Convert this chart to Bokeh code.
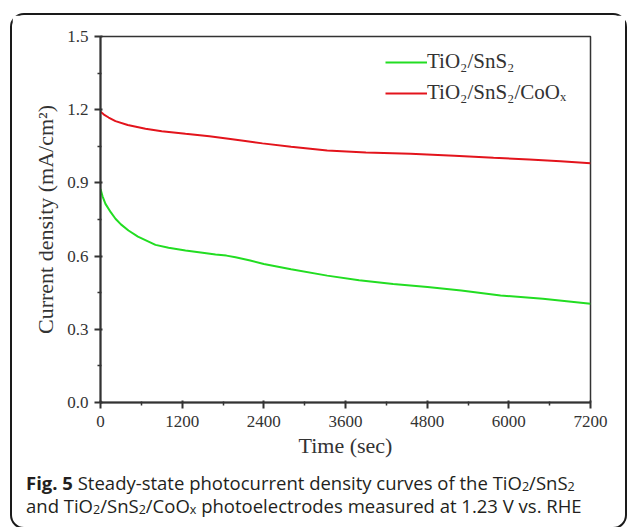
from bokeh.plotting import figure
from bokeh.models import (Legend, LegendItem, FixedTicker, Range1d,
                          NumeralTickFormatter, Div)
from bokeh.layouts import column
from bokeh.embed import file_html
from bokeh.resources import INLINE

# ---- data ----
green_t = [0, 30, 73, 150, 220, 300, 411, 550, 808, 1000, 1249, 1500, 1690, 1850,
           1984, 2200, 2400, 2800, 3331, 3800, 4300, 4805, 5300, 5878, 6500, 7200]
green_v = [0.875, 0.845, 0.814, 0.780, 0.753, 0.730, 0.705, 0.680, 0.646, 0.634,
           0.623, 0.614, 0.607, 0.602, 0.595, 0.582, 0.568, 0.546, 0.520, 0.501,
           0.486, 0.473, 0.459, 0.439, 0.425, 0.405]
red_t = [0, 50, 120, 220, 400, 661, 900, 1249, 1600, 1881, 2100, 2380, 2800, 3331,
         3900, 4555, 5200, 5775, 6300, 6759, 7200]
red_v = [1.192, 1.180, 1.168, 1.153, 1.137, 1.122, 1.112, 1.101, 1.091, 1.081, 1.073,
         1.062, 1.048, 1.033, 1.025, 1.019, 1.011, 1.003, 0.996, 0.989, 0.981]
series_names = ["TiO\u2082/SnS\u2082", "TiO\u2082/SnS\u2082/CoO\u2093"]
x_ticks = [0, 1200, 2400, 3600, 4800, 6000, 7200]
x_minor = [600, 1800, 3000, 4200, 5400, 6600]
y_ticks = [0.0, 0.3, 0.6, 0.9, 1.2, 1.5]
y_minor = [0.15, 0.45, 0.75, 1.05, 1.35]

SERIF = "Liberation Serif"
INK = "#231f20"
AX = "#333333"

p = figure(width=613, height=445, output_backend="svg", toolbar_location=None,
           x_range=Range1d(0, 7200), y_range=Range1d(0, 1.5),
           min_border_left=88, min_border_right=35, min_border_top=21,
           min_border_bottom=58)
p.background_fill_color = "white"
p.border_fill_color = "white"
p.grid.visible = False
p.outline_line_color = AX
p.outline_line_width = 1.5

g = p.line(green_t, green_v, line_color="#22dd22", line_width=2)
r = p.line(red_t, red_v, line_color="#e3141c", line_width=2)

for ax in (p.xaxis[0], p.yaxis[0]):
    ax.axis_line_width = 2
    ax.axis_line_color = AX
    ax.major_tick_line_color = AX
    ax.minor_tick_line_color = AX
    ax.major_tick_line_width = 2
    ax.minor_tick_line_width = 1.5
    ax.major_tick_out = 6
    ax.major_tick_in = 2
    ax.minor_tick_out = 3
    ax.minor_tick_in = 1
    ax.major_label_text_font = SERIF
    ax.major_label_text_font_size = "17px"
    ax.major_label_text_color = AX
    ax.axis_label_text_font = SERIF
    ax.axis_label_text_font_size = "22px"
    ax.axis_label_text_font_style = "normal"
    ax.axis_label_text_color = AX

p.xaxis.ticker = FixedTicker(ticks=x_ticks, minor_ticks=x_minor)
p.yaxis.ticker = FixedTicker(ticks=y_ticks, minor_ticks=y_minor)
p.yaxis.formatter = NumeralTickFormatter(format="0.0")
p.xaxis.axis_label = "Time (sec)"
p.yaxis.axis_label = "Current density (mA/cm\u00b2)"
p.xaxis.axis_label_standoff = 3
p.yaxis.axis_label_standoff = 6
p.xaxis.major_label_standoff = 7
p.yaxis.major_label_standoff = 6

legend = Legend(items=[LegendItem(label=series_names[0], renderers=[g]),
                       LegendItem(label=series_names[1], renderers=[r])],
                location=(285, 297), border_line_color=None,
                background_fill_alpha=0, label_text_font=SERIF,
                label_text_font_size="21px", label_text_color=AX,
                glyph_width=42, glyph_height=20, label_height=20,
                label_standoff=0, spacing=6, margin=0, padding=7)
p.add_layout(legend)

SUB = "<sub style='line-height:0;font-size:0.68em;vertical-align:-0.1em'>"
cap_html = ("<b>Fig. 5</b> Steady-state photocurrent density curves of the "
            f"TiO{SUB}2</sub>/SnS{SUB}2</sub><br>and TiO{SUB}2</sub>/SnS{SUB}2</sub>/"
            f"CoO{SUB}x</sub> photoelectrodes measured at 1.23 V vs. RHE")
cap = Div(text=cap_html, width=599, height=56, margin=(11, 0, 0, 14),
          styles={"font-family": "'Open Sans'", "font-size": "18.5px",
                  "line-height": "23px", "color": INK, "white-space": "nowrap"})

root = column(p, cap, margin=(13, 0, 0, 10),
              styles={"border": "2px solid #1a1a1a", "border-radius": "14px",
                      "background": "white"})

open("out.html", "w").write(file_html(root, INLINE))
